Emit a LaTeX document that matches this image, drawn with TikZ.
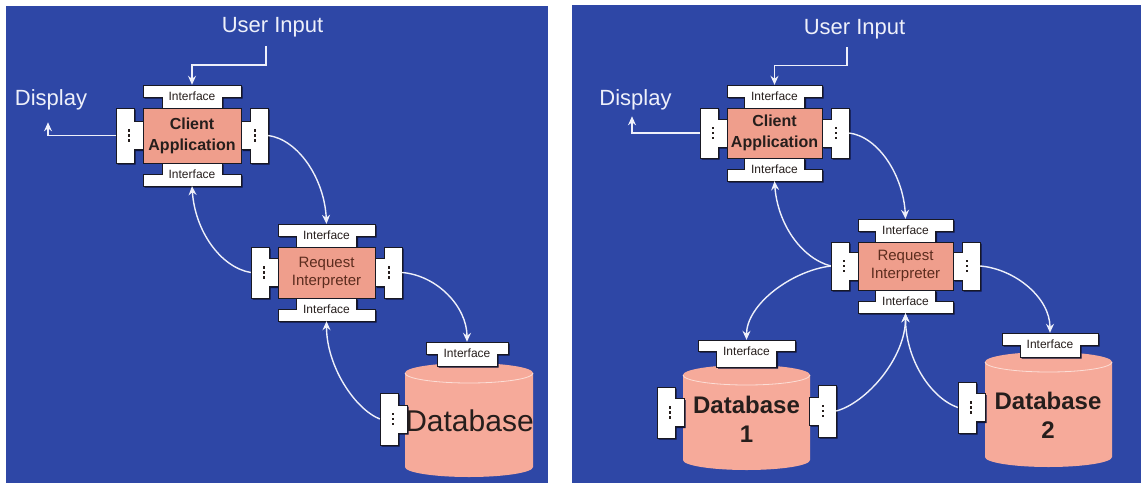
\documentclass[tikz,border=0pt]{standalone}
\usepackage{fontspec}
\setmainfont{Liberation Sans}
\usetikzlibrary{arrows.meta,calc}

\definecolor{panelblue}{RGB}{46,71,166}
\definecolor{boxpink}{RGB}{239,158,140}
\definecolor{drumpink}{RGB}{246,170,154}
\definecolor{drumrim}{RGB}{252,222,214}
\definecolor{partedge}{RGB}{25,25,35}
\definecolor{inkdark}{RGB}{38,30,28}
\definecolor{inkrust}{RGB}{92,44,30}
\definecolor{wirewhite}{RGB}{238,240,250}
\definecolor{shadowblue}{RGB}{14,20,60}

\tikzset{
  panel/.style={fill=panelblue, draw=none},
  wire/.style={draw=wirewhite, line width=1.4pt, -{Stealth[length=9pt,width=8pt,inset=3pt]}},
  partface/.style={fill=white, draw=partedge, line width=0.8pt, line join=miter},
  partshade/.style={fill=shadowblue, draw=none},
  corebox/.style={fill=boxpink, draw=partedge, line width=0.8pt, inner sep=0pt, align=center, text=inkdark},
  clientlabel/.style={font=\fontsize{16}{21}\selectfont\bfseries},
  interplabel/.style={font=\fontsize{15}{18}\selectfont, text=inkrust},
  tablabel/.style={inner sep=0pt, minimum height=23pt, font=\fontsize{12}{14}\selectfont, text=inkdark},
  portnode/.style={inner sep=0pt, minimum width=18pt},
  biglabel/.style={font=\fontsize{22}{26}\selectfont, text=wirewhite},
  dblabel/.style={align=center, text=inkdark, inner sep=0pt},
}

% T-shaped interface tab: cx, bar outer y, bar inner y, stem end y, bar half width, stem half width
\newcommand\tabpts[6]{({#1-#5},{#2}) -- ({#1+#5},{#2}) -- ({#1+#5},{#3}) -- ({#1+#6},{#3}) -- ({#1+#6},{#4}) -- ({#1-#6},{#4}) -- ({#1-#6},{#3}) -- ({#1-#5},{#3}) -- cycle}
\newcommand\tabpart[6]{%
  \path[partshade, shift={(1.6,1.6)}] \tabpts{#1}{#2}{#3}{#4}{#5}{#6};
  \path[partface] \tabpts{#1}{#2}{#3}{#4}{#5}{#6};}

% side port: cy, outer x, joint x, inner x, half height, stem half height
\newcommand\portpts[6]{({#2},{#1-#5}) -- ({#3},{#1-#5}) -- ({#3},{#1-#6}) -- ({#4},{#1-#6}) -- ({#4},{#1+#6}) -- ({#3},{#1+#6}) -- ({#3},{#1+#5}) -- ({#2},{#1+#5}) -- cycle}
\newcommand\portpart[6]{%
  \path[partshade, shift={(1.6,1.6)}] \portpts{#1}{#2}{#3}{#4}{#5}{#6};
  \path[partface] \portpts{#1}{#2}{#3}{#4}{#5}{#6};}

% vertical ellipsis on a port
\newcommand\portdots[2]{%
  \foreach \dy in {-5,0,5} \fill[inkdark] ({#1-1.1},{#2+(\dy)-1.1}) rectangle ++(2.2,2.2);}

% component: name, cx, cy, half width, half height, label, label style
\newcommand\component[7]{%
  \tabpart{#2}{#3-#5-23}{#3-#5-11}{#3-#5}{#4}{30}
  \tabpart{#2}{#3+#5+23}{#3+#5+11}{#3+#5}{#4}{30}
  \portpart{#3}{#2-#4-27}{#2-#4-9}{#2-#4}{#5}{14}
  \portpart{#3}{#2+#4+27}{#2+#4+9}{#2+#4}{#5}{14}
  \node[corebox, #7, minimum width={2*#4}, minimum height={2*#5}] (#1) at (#2,#3) {#6};
  \node[tablabel, minimum width={2*#4}] (#1-T) at (#2,{#3-#5-11.5}) {Interface};
  \node[tablabel, minimum width={2*#4}] (#1-B) at (#2,{#3+#5+11.5}) {Interface};
  \node[portnode, minimum height={2*#5}] (#1-L) at ({#2-#4-18},#3) {};
  \node[portnode, minimum height={2*#5}] (#1-R) at ({#2+#4+18},#3) {};
  \portdots{#2-#4-14}{#3}
  \portdots{#2+#4+14}{#3}
}

% database drum: cx, top centre y, bottom centre y, rx, ry
\newcommand\drum[5]{%
  \path[fill=drumpink] ({#1-#4},{#2}) -- ({#1-#4},{#3})
    arc[start angle=180, end angle=360, x radius=#4pt, y radius=#5pt]
    -- ({#1+#4},{#2})
    arc[start angle=0, end angle=180, x radius=#4pt, y radius=#5pt] -- cycle;
  \draw[drumrim, line width=0.8pt] ({#1-#4},{#2})
    arc[start angle=180, end angle=360, x radius=#4pt, y radius=#5pt];}

\begin{document}
\begin{tikzpicture}[x=1pt, y=-1pt]
\useasboundingbox (0,0) rectangle (1143,487);
\fill[white] (0,0) rectangle (1143,487);
\fill[panel] (6,6) rectangle (548,483);
\fill[panel] (572,5) rectangle (1141,483);

% ---------- single database ----------
\component{c1}{192}{135.5}{49}{27.5}{Client\\Application}{clientlabel}
\component{r1}{326.5}{272.5}{48.5}{25.5}{Request\\Interpreter}{interplabel}

\drum{469}{373}{467}{64}{10}
\tabpart{467}{342}{354}{366}{41}{30}
\node[tablabel, minimum width=82pt] (d1-T) at (467,353.5) {Interface};
\portpart{419}{380}{398}{407}{26}{14}
\node[portnode, minimum height=52pt] (d1-L) at (389,419) {};
\portdots{393}{419}
\node[dblabel, font=\fontsize{30}{34}\selectfont] (d1) at (469.5,421) {Database};

\node[biglabel] (ui1) at (272.5,27.5) {User Input};
\node[biglabel] (dp1) at (51,99.5) {Display};

\draw[wire] ($(ui1.south)+(-6.5,5)$) -- ++(0,19) -| (c1-T.north);
\draw[wire] (c1-L.west) -| ($(dp1.south)+(-3,9)$);
\draw[wire] (c1-R.east) .. controls +(30,4) and +(-2,-45) .. (r1-T.north);
\draw[wire] (r1-L.west) .. controls +(-30,-5) and +(3,45) .. (c1-B.south);
\draw[wire] (r1-R.east) .. controls +(35,3) and +(0,-35) .. (d1-T.north);
\draw[wire] (d1-L.west) .. controls +(-25,-10) and +(0,45) .. (r1-B.south);

% ---------- two databases ----------
\component{c2}{774.5}{133}{47.5}{25}{Client\\Application}{clientlabel}
\component{r2}{905.5}{266}{47.5}{24}{Request\\Interpreter}{interplabel}

\drum{746.5}{375}{460}{63.5}{10}
\tabpart{746.5}{340}{351}{367}{48.5}{30}
\node[tablabel, minimum width=97pt] (db1-T) at (746.5,351.5) {Interface};
\portpart{412.5}{657}{675}{684}{25.5}{14}
\node[portnode, minimum height=51pt] (db1-L) at (666,412.5) {};
\portdots{670}{412.5}
\portpart{411}{836}{818}{809}{26}{14}
\node[portnode, minimum height=52pt] (db1-R) at (827,411) {};
\portdots{823}{411}
\node[dblabel, font=\fontsize{24}{29}\selectfont\bfseries] (db1) at (746.5,419) {Database\\1};

\drum{1048.5}{362}{457}{63.5}{10}
\tabpart{1050}{333}{345}{357}{48}{30}
\node[tablabel, minimum width=96pt] (db2-T) at (1050,344.5) {Interface};
\portpart{407.5}{958}{976}{985}{25.5}{14}
\node[portnode, minimum height=51pt] (db2-L) at (967,407.5) {};
\portdots{971}{407.5}
\node[dblabel, font=\fontsize{24}{29}\selectfont\bfseries] (db2) at (1048,415) {Database\\2};

\node[biglabel] (ui2) at (854.5,29) {User Input};
\node[biglabel] (dp2) at (635.5,99.5) {Display};

\draw[wire] ($(ui2.south)+(-7.5,5)$) -- ++(0,18) -| (c2-T.north);
\draw[wire] (c2-L.west) -| ($(dp2.south)+(-3.5,3)$);
\draw[wire] (c2-R.east) .. controls +(30,4) and +(-2,-42) .. (r2-T.north);
\draw[wire] (r2-L.west) .. controls +(-30,-8) and +(3,42) .. (c2-B.south);
\draw[wire] (r2-L.west) .. controls +(-40,5) and +(0,-35) .. (db1-T.north);
\draw[wire] (r2-R.east) .. controls +(35,3) and +(0,-35) .. (db2-T.north);
\draw[wire] (db1-R.east) .. controls +(30,-8) and +(0,45) .. (r2-B.south);
\draw[wire] (db2-L.west) .. controls +(-28,-10) and +(0,45) .. (r2-B.south);
\end{tikzpicture}
\end{document}
